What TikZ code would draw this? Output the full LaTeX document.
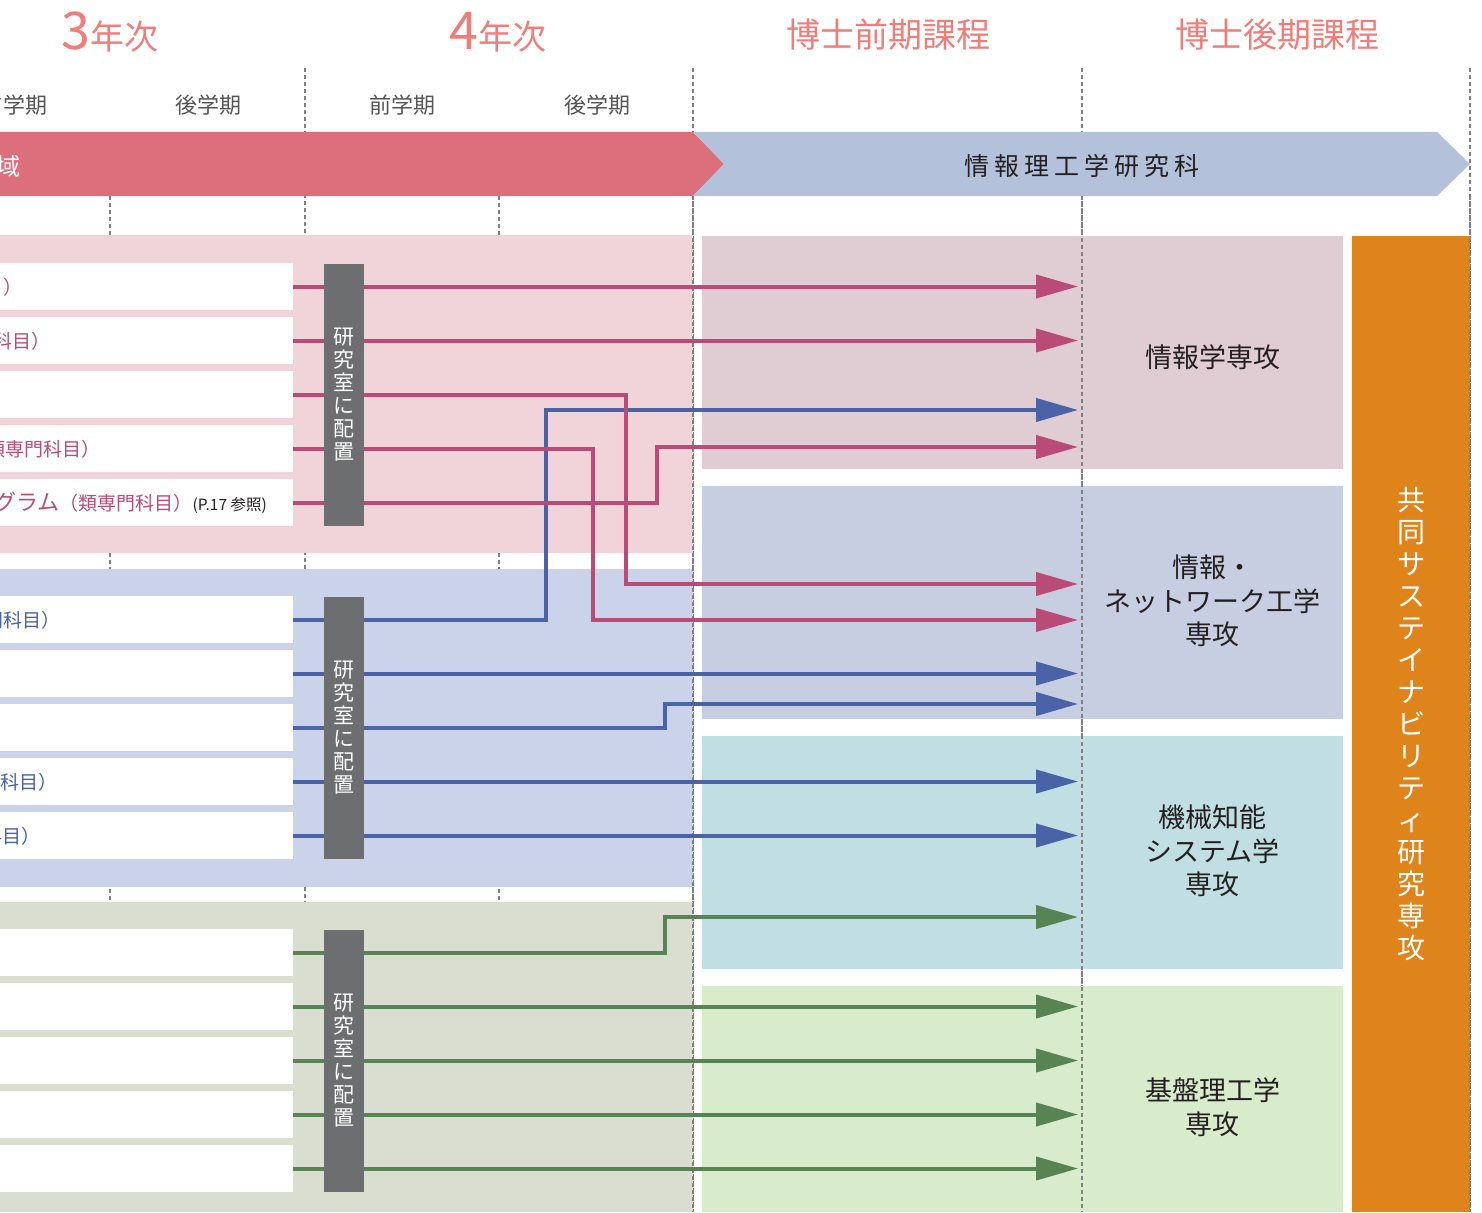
\documentclass[tikz,border=0pt]{standalone}
\usepackage{fontspec}
\setmainfont{Noto Sans CJK JP}
\newfontfamily\jpwide[LetterSpace=20]{Noto Sans CJK JP}
\usetikzlibrary{arrows.meta}
\definecolor{salmon}{HTML}{F07D78}
\definecolor{semgray}{HTML}{555555}
\definecolor{dashgray}{HTML}{808080}
\definecolor{darktext}{HTML}{231F20}
\definecolor{bannerred}{HTML}{DD6E7B}
\definecolor{bannerblue}{HTML}{B3C2DA}
\definecolor{pkbg}{HTML}{F0D4D9}
\definecolor{blbg}{HTML}{CBD3EA}
\definecolor{grbg}{HTML}{D9DED0}
\definecolor{secpk}{HTML}{E0CDD4}
\definecolor{secbl}{HTML}{C8CEE1}
\definecolor{secte}{HTML}{C1DFE3}
\definecolor{secgr}{HTML}{D8EBCB}
\definecolor{jointorange}{HTML}{DF841A}
\definecolor{bargray}{HTML}{6D6E70}
\definecolor{pkline}{HTML}{B84C77}
\definecolor{blline}{HTML}{4A62A6}
\definecolor{grline}{HTML}{578355}
\begin{document}
\begin{tikzpicture}[x=1pt,y=-1pt,
    head/.style={text=salmon,inner sep=0pt,font=\fontsize{34}{34}\selectfont},
    sem/.style={text=semgray,font=\fontsize{22}{22}\selectfont},
    gridline/.style={draw=dashgray,line width=1.3pt,dash pattern=on 4pt off 3pt},
    wbox/.style={fill=white,minimum width=303pt,minimum height=47pt,inner sep=0pt},
    ptxt/.style={text=pkline,inner sep=0pt,font=\fontsize{19}{19}\selectfont},
    btxt/.style={text=blline,inner sep=0pt,font=\fontsize{19}{19}\selectfont},
    labbar/.style={fill=bargray,text=white,minimum width=40pt,minimum height=262pt,inner sep=0pt,align=center,font=\fontsize{21}{23}\selectfont},
    rlab/.style={text=darktext,align=center,font=\fontsize{27}{33.5}\selectfont},
    conn/.style={line width=4pt,-{Triangle[length=42pt,width=23pt]}}]
  \useasboundingbox (0,0) rectangle (1482,1212);

  \foreach \x/\t in {110/3,498/4}
    \node[head,anchor=base] (yr\t) at (\x,50) {{\fontsize{52}{52}\selectfont\t}年次};
  \foreach \x/\n/\t in {888/m/博士前期課程,1277/d/博士後期課程}
    \node[head,anchor=base] (c\n) at (\x,48) {\t};
  \foreach \x/\n/\t in {14/1/前学期,208/2/後学期,402/3/前学期,597/4/後学期}
    \node[sem] (s\n) at (\x,105) {\t};

  \foreach \x in {110,499} \draw[gridline] (\x,196) -- (\x,1212);
  \foreach \x in {305,693,1082,1470} \draw[gridline] (\x,68) -- (\x,1212);

  \fill[pkbg] (0,235) rectangle (693,553);
  \fill[blbg] (0,569) rectangle (693,887);
  \fill[grbg] (0,902) rectangle (693,1212);

  \fill[bannerred] (0,132) -- (693,132) -- (724,164) -- (693,196) -- (0,196) -- cycle;
  \fill[bannerblue] (693,132) -- (1437,132) -- (1470,164) -- (1437,196) -- (693,196) -- (724,164) -- cycle;
  \node[text=white,font=\fontsize{24}{24}\selectfont] (ryo) at (8,166) {域};
  \node[text=darktext,font=\jpwide\fontsize{25}{25}\selectfont] (gs) at (1082,166) {情報理工学研究科};

  \fill[secpk] (702,236) rectangle (1343,469);
  \fill[secbl] (702,486) rectangle (1343,719);
  \fill[secte] (702,736) rectangle (1343,969);
  \fill[secgr] (702,986) rectangle (1343,1212);
  \node[fill=jointorange,text=white,minimum width=118pt,minimum height=976pt,align=center,
    font=\fontsize{28}{32}\selectfont] (joint) at (1411,724)
    {共\\同\\サ\\ス\\テ\\イ\\ナ\\ビ\\リ\\テ\\ィ\\研\\究\\専\\攻};
  \foreach \x in {693,1082,1470} \draw[gridline] (\x,196) -- (\x,1212);

  \node[rlab] (m1) at (1212.5,357) {情報学専攻};
  \node[rlab] (m2) at (1212.5,601) {情報・\\ネットワーク工学\\専攻};
  \node[rlab] (m3) at (1212.5,851) {機械知能\\システム学\\専攻};
  \node[rlab] (m4) at (1212.5,1107) {基盤理工学\\専攻};

  \foreach \i in {1,...,5} {
    \node[wbox] (p\i) at (141.5,{232.5+54*\i}) {};
    \node[wbox] (b\i) at (141.5,{565.5+54*\i}) {};
    \node[wbox] (g\i) at (141.5,{898.5+54*\i}) {};
  }
  \node[ptxt,anchor=east] (pt1) at (23,287) {目）};
  \node[ptxt,anchor=east] (pt2) at (51,341) {科目）};
  \node[ptxt,anchor=east] (pt4) at (101,449) {類専門科目）};
  \node[ptxt,anchor=west] (pt5) at (-6,503)
    {{\fontsize{22}{22}\selectfont グラム}（類専門科目）{\color{darktext}\fontsize{15.5}{15.5}\selectfont (P.17 参照)}};
  \node[btxt,anchor=east] (bt1) at (61,620) {門科目）};
  \node[btxt,anchor=east] (bt4) at (58,782) {科目）};
  \node[btxt,anchor=east] (bt5) at (41,836) {科目）};

  \foreach \n/\y in {i1/286.5,i2/340.5,i3/410,i4/447,n1/584,n2/620,n3/673.5,n4/704,
      k1/781.5,k2/835.5,k3/917,f1/1006.5,f2/1060.5,f3/1114.5,f4/1168.5}
    \coordinate (\n) at (1078,\y);

  \draw[conn,blline] (b1.east) -| (546,410) -- (i3);
  \draw[conn,blline] (b2.east) -- (n3);
  \draw[conn,blline] (b3.east) -| (665,704) -- (n4);
  \draw[conn,blline] (b4.east) -- (k1);
  \draw[conn,blline] (b5.east) -- (k2);
  \draw[conn,pkline] (p1.east) -- (i1);
  \draw[conn,pkline] (p2.east) -- (i2);
  \draw[conn,pkline] (p3.east) -| (626,584) -- (n1);
  \draw[conn,pkline] (p4.east) -| (593,620) -- (n2);
  \draw[conn,pkline] (p5.east) -| (657,447) -- (i4);
  \draw[conn,grline] (g1.east) -| (665,917) -- (k3);
  \foreach \i/\t in {2/f1,3/f2,4/f3,5/f4}
    \draw[conn,grline] (g\i.east) -- (\t);

  \foreach \n/\y in {1/394.5,2/727.5,3/1060.5}
    \node[labbar] (lab\n) at (344,\y) {研\\究\\室\\に\\配\\置};
\end{tikzpicture}
\end{document}
